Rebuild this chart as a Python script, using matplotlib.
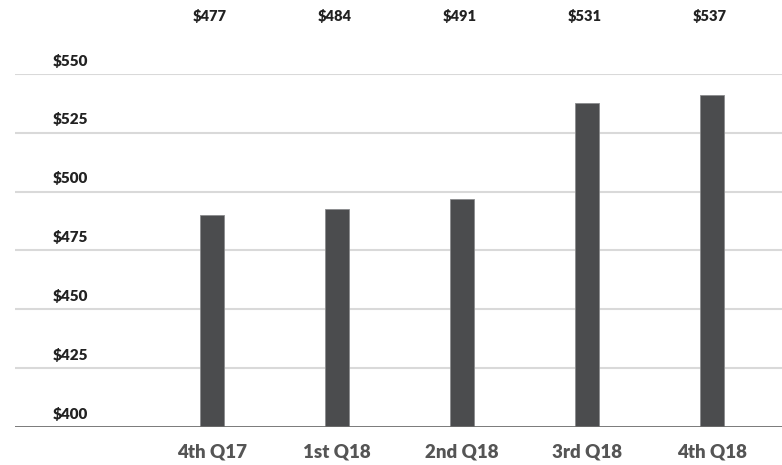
import numpy as np
import matplotlib
matplotlib.use('Agg')
import matplotlib.pyplot as plt
from matplotlib import font_manager

quarters = ['4th Q17', '1st Q18', '2nd Q18', '3rd Q18', '4th Q18']
bar_values = [490, 492.5, 497, 537.5, 541]
top_labels = ['$477', '$484', '$491', '$531', '$537']
y_ticks = [400, 425, 450, 475, 500, 525, 550]

bold_path = font_manager.findfont(font_manager.FontProperties(family='Lato', weight=800))


def bold(size):
    return font_manager.FontProperties(fname=bold_path, size=size)


W, H = 782, 465
fig = plt.figure(figsize=(W / 100, H / 100), dpi=100)
ax = fig.add_axes([15 / W, (H - 427) / H, 767 / W, (427 - 74) / H])

x = np.arange(len(quarters))
ax.bar(x, [v - 400 for v in bar_values], bottom=400, width=0.192,
       color='#4b4c4e', edgecolor='#8a8b8d', linewidth=0.6, zorder=3)

ax.set_xlim((15 - 212) / 125, (782 - 212) / 125)
ax.set_ylim(400, 550)

# gridlines
for v in y_ticks[1:]:
    ax.axhline(v, color='#d9d9d9', lw=1.5, zorder=1)
ax.axhline(400, color='#6e6e6e', lw=2, zorder=4)

for s in ax.spines.values():
    s.set_visible(False)
ax.set_yticks([])
ax.set_xticks(x, quarters)
ax.tick_params(axis='x', length=0, pad=12, labelcolor='#555555')
for t in ax.get_xticklabels():
    t.set_fontproperties(bold(13.5))

# y labels above gridlines
for v in y_ticks:
    ax.annotate(f'${v}', xy=((53 - 15) / 767, v), xycoords=('axes fraction', 'data'),
                xytext=(0, 9.7), textcoords='offset points', ha='left', va='center',
                fontproperties=bold(11), color='#222222')

# labels along the top
for i, lab in enumerate(top_labels):
    ax.annotate(lab, xy=(i - 0.02, (H - 16) / H), xycoords=('data', 'figure fraction'),
                ha='center', va='center', fontproperties=bold(10.5), color='#222222')

fig.savefig('out.png', dpi=100)
